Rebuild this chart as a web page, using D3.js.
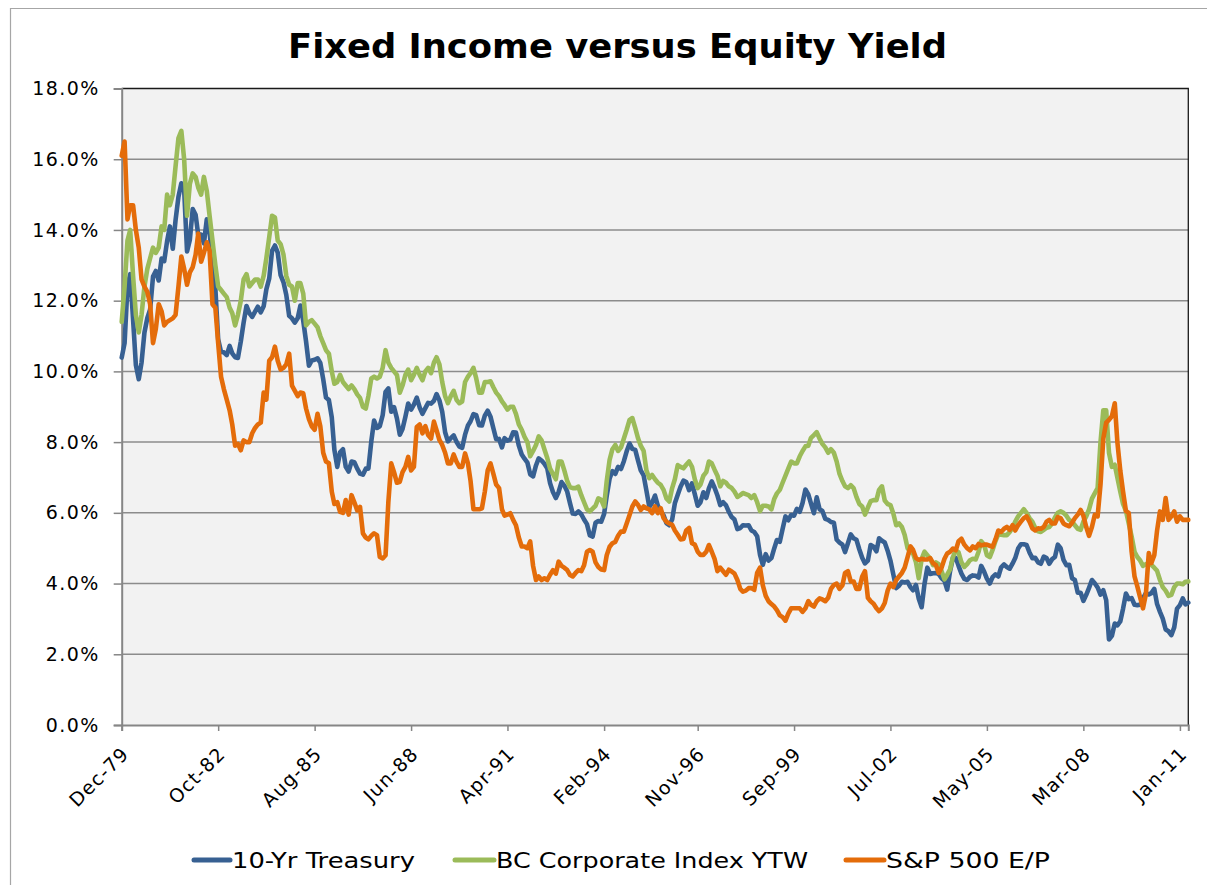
<!DOCTYPE html>
<html><head><meta charset="utf-8">
<script src="https://cdn.jsdelivr.net/npm/d3@7"></script>
<style>
body{margin:0;background:#fff;}
svg{display:block;font-family:"DejaVu Sans",Verdana,sans-serif;}
</style>
</head><body>
<svg id="chart" width="1207" height="885"></svg>
<script>
// ---------------- DATA ----------------
const chartTitle = "Fixed Income versus Equity Yield";
const startMonth = "1979-12"; // first monthly observation
const seriesNames = ["10-Yr Treasury", "BC Corporate Index YTW", "S&P 500 E/P"];

// 10-Yr Treasury yield (%), monthly Dec-79 .. Apr-11
const treasury10 = [10.39,
 10.80,12.41,12.75,11.47,10.18,9.78,10.25,11.10,11.51,11.75,12.68,12.84,
 12.57,13.19,13.12,13.68,14.10,13.47,14.28,14.94,15.32,15.15,13.39,13.72,
 14.59,14.43,13.86,13.87,13.62,14.30,13.95,13.06,12.34,10.91,10.55,10.54,
 10.46,10.72,10.51,10.40,10.38,10.85,11.38,11.85,11.65,11.54,11.69,11.83,
 11.67,11.84,12.32,12.63,13.41,13.56,13.36,12.72,12.52,12.16,11.57,11.50,
 11.38,11.51,11.86,11.43,10.85,10.16,10.31,10.33,10.37,10.24,9.78,9.26,
 9.19,8.70,7.78,7.30,7.71,7.80,7.30,7.17,7.45,7.43,7.25,7.11,
 7.08,7.25,7.25,8.02,8.61,8.40,8.45,8.76,9.42,9.52,8.86,8.99,
 8.67,8.21,8.37,8.72,9.09,8.92,9.06,9.26,8.98,8.80,8.96,9.11,
 9.09,9.17,9.36,9.18,8.86,8.28,8.02,8.11,8.19,8.01,7.87,7.84,
 8.21,8.47,8.59,8.79,8.76,8.48,8.47,8.75,8.89,8.72,8.39,8.08,
 8.09,7.85,8.11,8.04,8.07,8.28,8.27,7.90,7.65,7.53,7.42,7.09,
 7.03,7.34,7.54,7.48,7.39,7.26,6.84,6.59,6.42,6.59,6.87,6.77,
 6.60,6.26,5.98,5.97,6.04,5.96,5.81,5.68,5.36,5.33,5.72,5.77,
 5.75,5.97,6.48,6.97,7.18,7.10,7.30,7.24,7.46,7.74,7.96,7.81,
 7.78,7.47,7.20,7.06,6.63,6.17,6.28,6.49,6.20,6.04,5.93,5.71,
 5.65,5.81,6.27,6.51,6.74,6.91,6.87,6.64,6.83,6.53,6.20,6.30,
 6.58,6.42,6.69,6.89,6.71,6.49,6.22,6.30,6.21,6.03,5.88,5.81,
 5.54,5.57,5.65,5.64,5.65,5.50,5.46,5.34,4.81,4.53,4.83,4.65,
 4.72,5.00,5.23,5.18,5.54,5.90,5.79,5.94,5.92,6.11,6.03,6.28,
 6.66,6.52,6.26,5.99,6.44,6.10,6.05,5.83,5.80,5.74,5.72,5.24,
 5.16,5.10,4.89,5.14,5.39,5.28,5.24,4.97,4.73,4.57,4.65,5.09,
 5.04,4.91,5.28,5.21,5.16,4.93,4.65,4.26,3.87,3.94,4.05,4.03,
 4.05,3.90,3.81,3.96,3.57,3.33,3.98,4.45,4.27,4.29,4.30,4.27,
 4.15,4.08,3.83,4.35,4.72,4.73,4.50,4.28,4.13,4.10,4.19,4.23,
 4.22,4.17,4.50,4.34,4.14,4.00,4.18,4.26,4.20,4.46,4.54,4.47,
 4.42,4.57,4.72,4.99,5.11,5.11,5.09,4.88,4.72,4.73,4.60,4.56,
 4.76,4.72,4.56,4.69,4.75,5.10,5.00,4.67,4.52,4.53,4.15,4.10,
 3.74,3.74,3.51,3.68,3.88,4.10,4.01,3.89,3.69,3.81,3.53,2.42,
 2.52,2.87,2.82,2.93,3.29,3.72,3.56,3.59,3.40,3.39,3.40,3.59,
 3.73,3.69,3.73,3.85,3.42,3.20,3.01,2.70,2.65,2.54,2.76,3.29,
 3.39,3.58,3.41,3.46];

// BC Corporate Index yield-to-worst (%), monthly Dec-79 .. Apr-11
const corporateYTW = [11.4,
 12.4,13.7,14.0,12.7,11.6,11.1,11.6,12.4,12.9,13.2,13.5,13.35,
 13.5,14.1,14.0,15.0,14.7,15.0,15.8,16.6,16.8,16.0,14.4,15.3,
 15.6,15.5,15.2,15.0,15.5,15.1,14.4,13.7,13.0,12.4,12.3,12.2,
 12.1,11.8,11.65,11.3,11.6,12.0,12.6,12.75,12.4,12.5,12.6,12.6,
 12.4,12.7,13.2,13.8,14.4,14.35,13.7,13.6,13.3,12.7,12.45,12.4,
 12.0,12.5,12.5,12.2,11.3,11.4,11.45,11.35,11.25,11.0,10.8,10.6,
 10.5,10.0,9.65,9.7,9.9,9.7,9.6,9.5,9.6,9.5,9.35,9.25,
 9.0,8.95,9.3,9.8,9.85,9.8,9.85,10.1,10.6,10.25,10.1,10.0,
 9.9,9.4,9.6,9.9,10.05,9.75,9.9,10.1,9.9,9.75,10.0,10.1,
 9.95,10.25,10.4,10.2,9.7,9.3,9.1,9.3,9.45,9.2,9.1,9.15,
 9.7,9.85,9.95,10.1,9.8,9.4,9.4,9.7,9.7,9.72,9.55,9.4,
 9.3,9.15,9.05,8.92,9.0,9.0,8.8,8.5,8.35,8.15,8.0,7.6,
 7.75,7.92,8.16,8.05,7.8,7.55,7.25,7.1,6.95,7.45,7.45,7.2,
 6.9,6.72,6.7,6.7,6.74,6.5,6.3,6.1,6.04,6.12,6.2,6.41,
 6.37,6.18,6.9,7.5,7.8,7.92,7.75,7.85,8.1,8.35,8.63,8.68,
 8.4,8.1,7.9,7.75,7.2,6.98,7.07,6.95,6.85,6.79,6.65,6.41,
 6.32,6.7,6.95,7.35,7.3,7.26,7.36,7.45,7.3,6.95,6.7,6.8,
 7.05,7.15,7.45,7.4,7.22,7.05,6.75,6.9,6.85,6.75,6.7,6.6,
 6.45,6.5,6.56,6.53,6.5,6.42,6.5,6.3,6.05,6.2,6.2,6.18,
 6.1,6.4,6.55,6.65,6.85,7.05,7.25,7.45,7.4,7.4,7.6,7.75,
 7.88,7.9,8.12,8.2,8.28,8.1,7.95,7.85,7.7,7.8,7.7,7.45,
 7.1,6.9,6.75,6.7,6.78,6.7,6.45,6.25,6.18,5.95,6.15,6.33,
 6.36,6.36,6.65,6.75,6.35,6.25,6.22,5.98,5.65,5.7,5.6,5.37,
 5.0,4.9,4.85,4.6,4.15,4.7,4.9,4.8,4.7,4.52,4.6,4.55,
 4.35,4.12,4.25,4.4,4.75,4.94,4.88,4.6,4.47,4.55,4.66,4.7,
 4.68,4.9,5.2,5.1,4.8,4.75,4.95,5.2,5.4,5.38,5.37,5.37,
 5.46,5.58,5.75,5.9,6.0,6.1,6.0,5.85,5.75,5.58,5.48,5.46,
 5.52,5.58,5.6,5.7,5.87,6.0,6.04,6.0,5.92,5.8,5.75,5.65,
 5.55,5.52,5.75,5.9,6.1,6.4,6.55,6.7,8.0,8.9,8.9,7.7,
 7.3,7.36,7.0,6.6,6.25,6.05,5.7,5.33,4.9,4.75,4.65,4.5,
 4.55,4.58,4.53,4.45,4.36,4.1,3.9,3.8,3.65,3.68,3.9,4.0,
 4.0,3.98,4.05,4.06];

// S&P 500 earnings yield E/P (%), monthly Dec-79 .. Apr-11
const spEarningsYield = [16.1,
 16.5,14.3,14.7,14.7,14.0,13.5,12.6,12.4,12.25,11.9,10.8,11.2,
 11.9,11.7,11.3,11.4,11.45,11.5,11.6,12.4,13.25,12.9,12.45,12.8,
 12.95,13.3,13.9,13.1,13.35,13.65,13.4,11.9,11.8,10.8,9.85,9.5,
 9.2,8.9,8.5,7.9,7.95,7.77,8.05,8.0,8.0,8.25,8.4,8.5,
 8.55,9.4,9.2,10.3,10.4,10.7,10.3,10.05,10.1,10.2,10.5,9.6,
 9.45,9.3,9.4,9.38,8.95,8.65,8.45,8.35,8.8,8.45,7.7,7.45,
 7.4,6.6,6.25,6.3,6.03,6.0,6.36,5.95,6.5,6.3,6.07,6.17,
 5.42,5.3,5.25,5.35,5.42,5.37,4.75,4.71,4.8,6.3,7.4,7.15,
 6.85,6.88,7.15,7.3,7.58,7.2,7.3,8.43,8.5,8.25,8.45,8.2,
 8.1,8.58,8.34,8.06,7.92,7.7,7.4,7.4,7.65,7.45,7.3,7.3,
 7.68,7.4,6.9,6.1,6.1,6.1,6.13,6.6,7.2,7.4,7.1,6.8,
 6.7,6.1,5.92,5.95,5.99,5.8,5.65,5.3,5.05,5.05,5.0,5.19,
 4.5,4.1,4.2,4.1,4.15,4.1,4.25,4.38,4.28,4.62,4.5,4.45,
 4.38,4.24,4.2,4.3,4.38,4.35,4.52,4.9,4.95,4.9,4.6,4.47,
 4.4,4.38,4.8,5.04,5.14,5.18,5.35,5.47,5.47,5.7,5.94,6.18,
 6.32,6.22,6.08,6.18,6.13,6.1,5.99,6.18,5.99,6.13,5.85,5.75,
 5.7,5.66,5.5,5.38,5.25,5.26,5.5,5.57,5.14,5.1,4.9,4.81,
 4.81,4.9,5.09,4.9,4.7,4.35,4.45,4.35,4.25,4.39,4.34,4.28,
 4.1,3.85,3.77,3.8,3.87,3.87,3.82,4.3,4.45,3.95,3.65,3.5,
 3.42,3.35,3.25,3.1,3.05,2.95,3.15,3.3,3.3,3.3,3.3,3.2,
 3.3,3.5,3.4,3.35,3.5,3.58,3.55,3.5,3.6,3.85,3.96,4.0,
 3.85,3.95,4.3,4.35,4.06,4.06,3.85,3.85,4.2,4.35,3.6,3.5,
 3.43,3.3,3.22,3.3,3.45,3.8,4.0,3.9,4.1,4.2,4.3,4.45,
 4.75,5.05,4.95,4.72,4.67,4.7,4.68,4.68,4.72,4.58,4.52,4.3,
 4.45,4.7,4.85,4.9,4.99,4.94,5.2,5.27,5.1,5.0,4.94,5.05,
 5.0,5.12,5.08,5.1,5.1,5.07,5.04,5.25,5.5,5.46,5.55,5.6,
 5.52,5.65,5.5,5.65,5.75,5.85,5.9,5.75,5.56,5.5,5.56,5.55,
 5.6,5.75,5.8,5.7,5.7,5.88,5.85,5.7,5.65,5.62,5.72,5.85,
 5.95,6.08,5.92,5.6,5.35,5.6,5.94,5.9,6.8,8.1,8.55,8.63,
 8.73,9.1,8.0,7.2,6.6,6.05,6.0,4.9,4.2,3.92,3.6,3.3,
 3.7,4.86,4.58,4.8,5.5,6.04,5.8,6.42,5.8,5.9,6.04,5.75,
 5.9,5.8,5.8,5.8];

const xTickLabels = ["Dec-79","Oct-82","Aug-85","Jun-88","Apr-91","Feb-94",
                     "Nov-96","Sep-99","Jul-02","May-05","Mar-08","Jan-11"];
const yTicks = [0, 2, 4, 6, 8, 10, 12, 14, 16, 18];

// ---------------- CHART ----------------
const colors = ["#376092", "#9bbb59", "#e46c0a"];
const svg = d3.select("#chart");

const plot = {left: 121.7, right: 1188.3, top: 88.5, bottom: 725};
const start = d3.timeParse("%Y-%m")(startMonth);
const series = [treasury10, corporateYTW, spEarningsYield].map((vals, k) => ({
  name: seriesNames[k],
  color: colors[k],
  values: vals.map((v, i) => ({date: d3.timeMonth.offset(start, i), v}))
}));
const allDates = series[0].values.map(d => d.date);

const x = d3.scaleTime().domain(d3.extent(allDates)).range([plot.left, plot.right]);
const y = d3.scaleLinear().domain([0, 18]).range([plot.bottom, plot.top]);

// outer chart border (extends beyond the visible area on right / bottom)
svg.append("path").attr("d", "M10.5,900 V8.5 H1220")
  .attr("fill", "none").attr("stroke", "#a6a6a6").attr("stroke-width", 1.2);

// title
svg.append("text").attr("x", 617.5).attr("y", 58)
  .attr("text-anchor", "middle").attr("font-size", 34).attr("font-weight", "bold")
  .attr("textLength", 659).attr("lengthAdjust", "spacingAndGlyphs")
  .attr("fill", "#000").text(chartTitle);

// plot background
svg.append("rect").attr("x", plot.left).attr("y", plot.top)
  .attr("width", plot.right - plot.left).attr("height", plot.bottom - plot.top)
  .attr("fill", "#f2f2f2");

// gridlines
svg.append("g").selectAll("line").data(yTicks.filter(t => t > 0 && t < 18)).join("line")
  .attr("x1", plot.left).attr("x2", plot.right)
  .attr("y1", d => y(d)).attr("y2", d => y(d))
  .attr("stroke", "#8c8c8c").attr("stroke-width", 1.5);

// top & right border
svg.append("path")
  .attr("d", `M${plot.left},${plot.top} H${plot.right} V${plot.bottom}`)
  .attr("fill", "none").attr("stroke", "#1a1a1a").attr("stroke-width", 1.3);

// y axis
const yAxis = svg.append("g").attr("transform", `translate(${plot.left},0)`)
  .call(d3.axisLeft(y).tickValues(yTicks).tickSize(8).tickPadding(14)
        .tickFormat(d => d.toFixed(1) + "%"));
yAxis.select(".domain").attr("stroke", "#868686").attr("stroke-width", 2);
yAxis.selectAll(".tick line").attr("stroke", "#868686").attr("stroke-width", 1.5);
yAxis.selectAll(".tick text").attr("font-size", 19).attr("letter-spacing", 1.4)
  .attr("fill", "#000").attr("font-family", "DejaVu Sans, Verdana, sans-serif");

// x axis
const parseTick = d3.timeParse("%b-%y");
const xAxis = svg.append("g").attr("transform", `translate(0,${plot.bottom})`)
  .call(d3.axisBottom(x).tickValues(xTickLabels.map(parseTick)).tickSize(6)
        .tickFormat((d, i) => xTickLabels[i]));
xAxis.select(".domain").attr("stroke", "#868686").attr("stroke-width", 2);
xAxis.selectAll(".tick line").attr("stroke", "#868686").attr("stroke-width", 1.5);
xAxis.selectAll(".tick text")
  .attr("font-size", 19).attr("letter-spacing", 1.2).attr("fill", "#000")
  .attr("font-family", "DejaVu Sans, Verdana, sans-serif")
  .attr("text-anchor", "end").attr("y", 0).attr("dy", 0)
  .attr("transform", "translate(8,30) rotate(-45)");

// lines
const line = d3.line().x(d => x(d.date)).y(d => y(d.v));
svg.append("g").selectAll("path").data(series).join("path")
  .attr("d", d => line(d.values))
  .attr("fill", "none").attr("stroke", d => d.color)
  .attr("stroke-width", 4.6).attr("stroke-linejoin", "round").attr("stroke-linecap", "round");

// legend
const legendItems = [
  {sx: 194, tx: 232, w: 183},
  {sx: 455, tx: 496, w: 312},
  {sx: 846, tx: 886, w: 164}
];
const lg = svg.append("g").selectAll("g").data(series).join("g");
lg.append("line")
  .attr("x1", (d, i) => legendItems[i].sx).attr("x2", (d, i) => legendItems[i].tx - 2)
  .attr("y1", 860).attr("y2", 860)
  .attr("stroke", d => d.color).attr("stroke-width", 5).attr("stroke-linecap", "round");
lg.append("text")
  .attr("x", (d, i) => legendItems[i].tx).attr("y", 868)
  .attr("font-size", 21).attr("fill", "#000")
  .attr("textLength", (d, i) => legendItems[i].w).attr("lengthAdjust", "spacingAndGlyphs")
  .text(d => d.name);
</script>
</body></html>
